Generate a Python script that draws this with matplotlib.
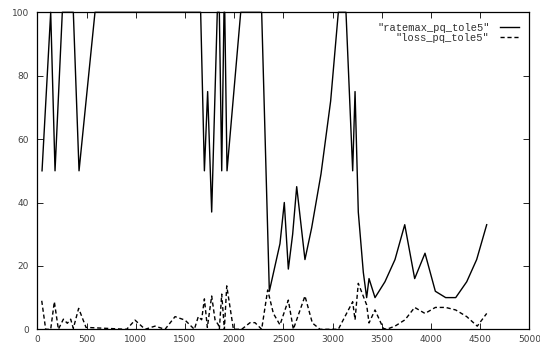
import matplotlib
matplotlib.use("Agg")
import matplotlib.pyplot as plt

# ratemax_pq_tole5
rate_x = [48, 136, 180, 254, 366, 424, 586, 1660, 1698, 1731, 1772, 1829, 1850, 1874,
          1897, 1905, 1928, 2067, 2280, 2358, 2466, 2510, 2551, 2595, 2636, 2720, 2788,
          2883, 2981, 3059, 3137, 3205, 3229, 3262, 3313, 3347, 3371, 3432, 3533, 3635,
          3734, 3835, 3940, 4045, 4150, 4252, 4364, 4465, 4567]
rate_y = [50, 100, 50, 100, 100, 50, 100, 100, 50, 75, 37, 100, 100, 50,
          100, 100, 50, 100, 100, 12, 27, 40, 19, 30, 45, 22, 32,
          49, 72, 100, 100, 50, 75, 37, 18, 10, 16, 10, 15, 22,
          33, 16, 24, 12, 10, 10, 15, 22, 33]

# loss_pq_tole5
loss_x = [45, 85, 136, 173, 214, 265, 305, 339, 366, 420, 495, 908, 993, 1095, 1196,
          1298, 1400, 1501, 1596, 1636, 1670, 1698, 1728, 1772, 1806, 1840, 1850, 1874,
          1901, 1925, 1993, 2077, 2162, 2212, 2280, 2341, 2399, 2466, 2551, 2602, 2720,
          2795, 2873, 3059, 3205, 3229, 3262, 3347, 3371, 3432, 3516, 3550, 3635, 3737,
          3835, 3940, 4045, 4150, 4252, 4364, 4471, 4567]
loss_y = [9, 0, 0, 8.7, 0, 3.2, 1.9, 3.2, 0.3, 6.6, 0.6, 0, 2.9, 0, 1,
          0, 4, 2.9, 0, 4, 3, 9.6, 0.6, 10.5, 3, 1.4, 0, 11.1,
          0, 13.7, 0, 0, 2.1, 2.1, 0, 12.4, 5, 1.4, 9.2, 0, 10.5,
          2, 0, 0, 8.7, 3, 14.5, 7.7, 2, 6.1, 0.3, 0, 1, 3,
          6.9, 5, 6.9, 6.9, 6.1, 4, 1, 5]

fig = plt.figure(figsize=(5.4, 3.45), dpi=100)
ax = fig.add_axes([0.0691, 0.0455, 0.9111, 0.9188])

ax.plot(rate_x, rate_y, color="black", lw=1.0, clip_on=False,
        label='"ratemax_pq_tole5"')
ax.plot(loss_x, loss_y, color="black", lw=1.0, ls=(0, (3, 2)), clip_on=False,
        label='"loss_pq_tole5"')

ax.set_xlim(0, 5000)
ax.set_ylim(0, 100)
ax.set_xticks(range(0, 5001, 500))
ax.set_yticks(range(0, 101, 20))
ax.tick_params(direction="in", top=True, right=True, length=4, width=0.6,
               labelsize=6.5, labelcolor="#404040")
ax.tick_params(axis="x", pad=4)
ax.tick_params(axis="y", pad=6)
for s in ax.spines.values():
    s.set_linewidth(0.9)

leg = ax.legend(loc="upper right", frameon=False, markerfirst=False,
                prop={"family": "Liberation Mono", "size": 7.5},
                handlelength=1.8, handletextpad=1.0, labelspacing=0.0,
                borderpad=0.4, borderaxespad=0.6)
for t in leg.get_texts():
    t.set_color("#303030")

fig.savefig("out.png", dpi=100)
